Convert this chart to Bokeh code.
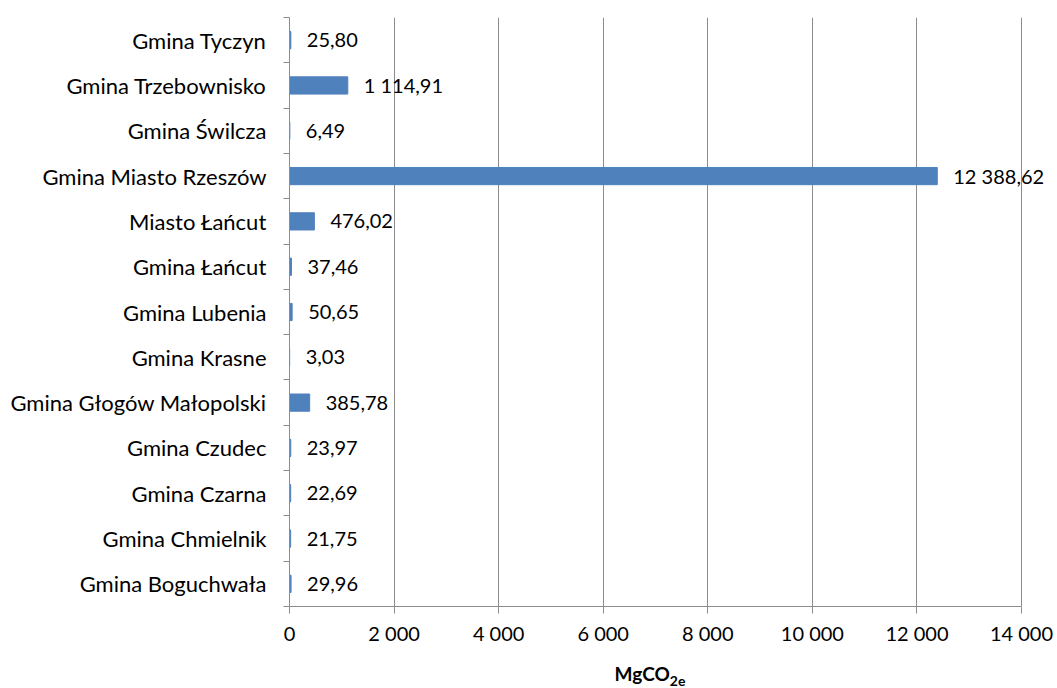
from bokeh.plotting import figure
from bokeh.models import Range1d, FixedTicker, ColumnDataSource, Div
from bokeh.layouts import column
from bokeh.core.properties import value
from bokeh.embed import file_html
from bokeh.resources import INLINE

# data, top to bottom as in the chart
categories = ["Gmina Tyczyn", "Gmina Trzebownisko", "Gmina Świlcza", "Gmina Miasto Rzeszów",
              "Miasto Łańcut", "Gmina Łańcut", "Gmina Lubenia", "Gmina Krasne",
              "Gmina Głogów Małopolski", "Gmina Czudec", "Gmina Czarna", "Gmina Chmielnik",
              "Gmina Boguchwała"]
values = [25.80, 1114.91, 6.49, 12388.62, 476.02, 37.46, 50.65, 3.03, 385.78, 23.97, 22.69, 21.75, 29.96]
x_ticks = [0, 2000, 4000, 6000, 8000, 10000, 12000, 14000]
x_tick_labels = ["0", "2 000", "4 000", "6 000", "8 000", "10 000", "12 000", "14 000"]

FONT = "Lato"
FS_CAT = "22px"
FS_NUM = "20px"
GRID = "#8c8c8c"


def fmt(v):
    s = f"{v:,.2f}"
    return s.replace(",", " ").replace(".", ",")


n = len(categories)
ypos = [n - 1 - i for i in range(n)]
src = ColumnDataSource(dict(y=ypos, v=values, lab=[fmt(v) for v in values]))

# frame extends a little past 14 000 (invisible) so the largest value label is not clipped
p = figure(width=1057, height=650, output_backend="svg", toolbar_location=None,
           x_range=Range1d(0, 14688), y_range=Range1d(-0.5, n - 0.5),
           min_border_left=289, min_border_right=0, min_border_top=17, min_border_bottom=44)
p.outline_line_color = None
p.background_fill_color = "white"

p.hbar(y="y", right="v", left=0, height=0.38, source=src, color="#4F81BD", line_color="#4F81BD")
p.text(x="v", y="y", text="lab", source=src, x_offset=16, text_align="left", text_baseline="middle",
       text_font=value(FONT), text_font_size=FS_NUM, text_color="black")

# x axis
p.xaxis.ticker = FixedTicker(ticks=x_ticks)
p.xaxis.bounds = (0, 14000)
p.xaxis.major_label_overrides = {t: l for t, l in zip(x_ticks, x_tick_labels)}
p.xaxis.axis_line_color = GRID
p.xaxis.major_tick_line_color = GRID
p.xaxis.major_tick_out = 7
p.xaxis.major_tick_in = 0
p.xaxis.minor_tick_line_color = None
p.xaxis.major_label_text_font = FONT
p.xaxis.major_label_text_font_size = FS_NUM
p.xaxis.major_label_text_color = "black"
p.xaxis.major_label_standoff = 7

# y axis
p.yaxis.ticker = FixedTicker(ticks=ypos, minor_ticks=[i - 0.5 for i in range(n + 1)])
p.yaxis.major_label_overrides = {y: c for y, c in zip(ypos, categories)}
p.yaxis.axis_line_color = GRID
p.yaxis.major_tick_line_color = None
p.yaxis.major_tick_out = 0
p.yaxis.major_tick_in = 0
p.yaxis.minor_tick_line_color = GRID
p.yaxis.minor_tick_out = 6
p.yaxis.minor_tick_in = 0
p.yaxis.major_label_text_font = FONT
p.yaxis.major_label_text_font_size = FS_CAT
p.yaxis.major_label_text_color = "black"
p.yaxis.major_label_standoff = 17

p.xgrid.grid_line_color = GRID
p.xgrid.bounds = (0, 14000)
p.ygrid.grid_line_color = None

title = Div(text="<div style='margin-top:10px'><b>MgCO<sub style='font-size:14px'>2e</sub></b></div>",
            width=812, height=36, margin=(0, 0, 0, 244),
            styles={"text-align": "center", "font-family": "Lato", "font-size": "19px", "color": "black"})

open("out.html", "w").write(file_html(column(p, title, spacing=0), INLINE))
